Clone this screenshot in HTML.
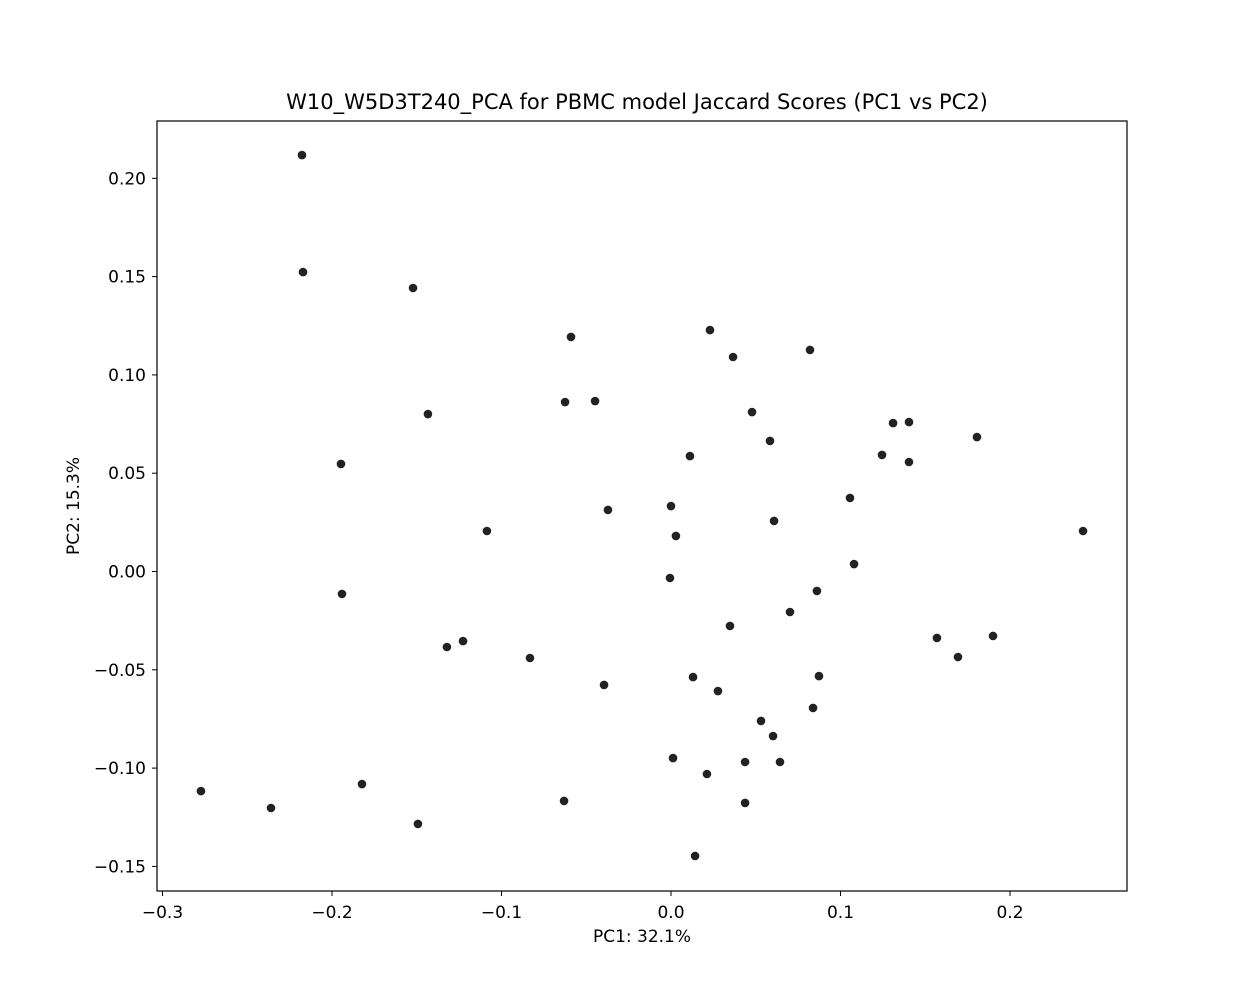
<!DOCTYPE html>
<html><head><meta charset="utf-8"><style>
body{margin:0;background:#fff;}
svg{display:block;font-family:"DejaVu Sans","Liberation Sans",sans-serif;}
</style></head><body>
<svg id="chart" width="1255" height="1005" viewBox="0 0 1255 1005">
<rect width="1255" height="1005" fill="#fff"/>
<text x="637" y="109" font-size="21" text-anchor="middle" fill="#000">W10_W5D3T240_PCA for PBMC model Jaccard Scores (PC1 vs PC2)</text>
<g id="points"></g>
<g id="xticks"></g>
<g id="yticks"></g>
<rect x="157" y="121" width="970" height="770" fill="none" stroke="#000" stroke-width="1.2"/>
<text x="642" y="942" font-size="17" text-anchor="middle">PC1: 32.1%</text>
<text x="79" y="506" font-size="17" text-anchor="middle" transform="rotate(-90 79 506)">PC2: 15.3%</text>
</svg>
<script>
const pc1=[-0.2177,-0.2171,-0.1522,-0.0590,0.0230,0.0366,0.0820,-0.0625,-0.0448,-0.1434,0.0478,0.1310,0.1404,0.1805,0.0584,-0.1947,0.0112,0.1245,0.1404,0.1056,0.0000,-0.0372,0.0608,-0.1086,0.0029,0.2431,0.1080,-0.0006,-0.1941,0.0861,0.0702,0.0348,0.1569,0.1900,-0.1227,-0.1322,0.1693,-0.0832,0.0130,0.0873,-0.0395,0.0277,0.0838,0.0531,0.0602,0.0012,0.0437,0.0643,0.0212,-0.1823,-0.2773,-0.2360,-0.0631,0.0437,-0.1493,0.0142];
const pc2=[0.2118,0.1523,0.1442,0.1193,0.1228,0.1091,0.1127,0.0862,0.0867,0.0801,0.0811,0.0755,0.0760,0.0684,0.0664,0.0547,0.0587,0.0593,0.0557,0.0374,0.0333,0.0313,0.0257,0.0206,0.0181,0.0206,0.0038,-0.0033,-0.0114,-0.0099,-0.0206,-0.0277,-0.0338,-0.0328,-0.0354,-0.0384,-0.0435,-0.0440,-0.0537,-0.0532,-0.0577,-0.0608,-0.0694,-0.0760,-0.0837,-0.0949,-0.0969,-0.0969,-0.1030,-0.1081,-0.1117,-0.1203,-0.1167,-0.1177,-0.1284,-0.1447];
const xTicks=[-0.3,-0.2,-0.1,0.0,0.1,0.2];
const xTickLabels=["\u22120.3","\u22120.2","\u22120.1","0.0","0.1","0.2"];
const yTicks=[0.20,0.15,0.10,0.05,0.00,-0.05,-0.10,-0.15];
const yTickLabels=["0.20","0.15","0.10","0.05","0.00","\u22120.05","\u22120.10","\u22120.15"];
const NS="http://www.w3.org/2000/svg";
const xS=v=>671+v*1695;
const yS=v=>571.5-v*1966;
const pg=document.getElementById('points');
for(let i=0;i<pc1.length;i++){
  const c=document.createElementNS(NS,'circle');
  c.setAttribute('cx',xS(pc1[i]));c.setAttribute('cy',yS(pc2[i]));c.setAttribute('r',4.3);
  c.setAttribute('fill','#222');
  
  
  pg.appendChild(c);
}
const xg=document.getElementById('xticks');
xTicks.forEach((t,i)=>{
  const x=xS(t);
  const l=document.createElementNS(NS,'line');
  l.setAttribute('x1',x);l.setAttribute('x2',x);l.setAttribute('y1',891);l.setAttribute('y2',896);l.setAttribute('stroke','#000');
  
  
  xg.appendChild(l);
  const tx=document.createElementNS(NS,'text');
  tx.setAttribute('x',x);tx.setAttribute('y',918);tx.setAttribute('font-size','17');tx.setAttribute('text-anchor','middle');
  tx.textContent=xTickLabels[i];
  
  
  xg.appendChild(tx);
});
const yg=document.getElementById('yticks');
yTicks.forEach((t,i)=>{
  const y=yS(t);
  const l=document.createElementNS(NS,'line');
  l.setAttribute('x1',152);l.setAttribute('x2',157);l.setAttribute('y1',y);l.setAttribute('y2',y);l.setAttribute('stroke','#000');
  
  
  yg.appendChild(l);
  const tx=document.createElementNS(NS,'text');
  tx.setAttribute('x',146);tx.setAttribute('y',y+6);tx.setAttribute('font-size','17');tx.setAttribute('text-anchor','end');
  tx.textContent=yTickLabels[i];
  
  
  yg.appendChild(tx);
});
</script>
</body></html>
